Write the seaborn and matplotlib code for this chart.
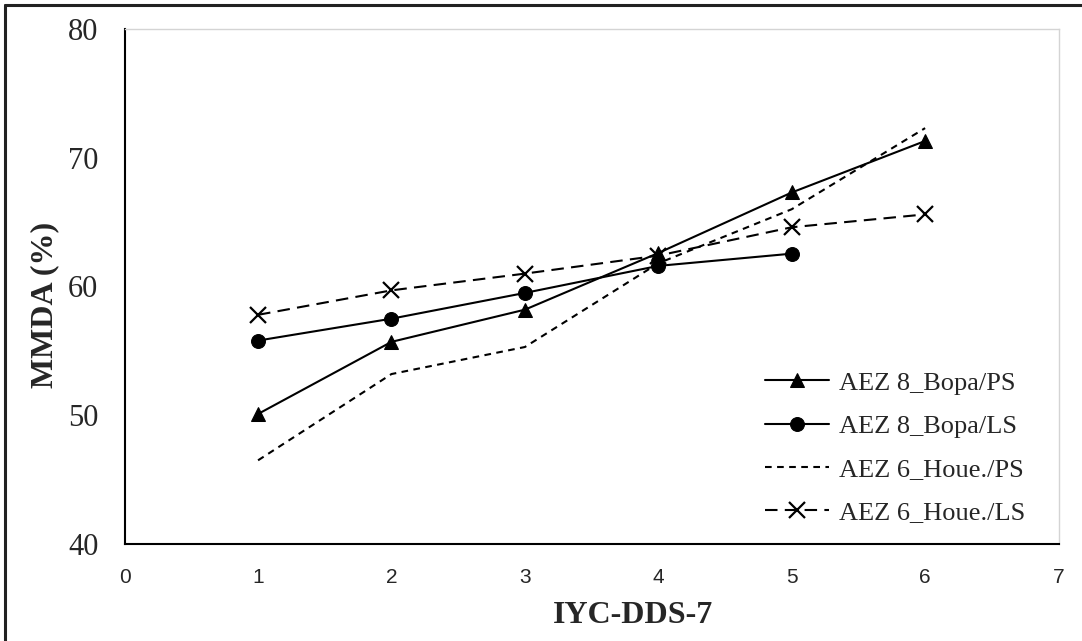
#!/usr/bin/env python3
"""MMDA (%) selon le score IYC-DDS-7, par zone agro-écologique."""

import matplotlib.pyplot as plt
import pandas as pd
import seaborn as sns
from matplotlib.lines import Line2D

DDS = [1, 2, 3, 4, 5, 6]
BOPA_PS = [50.1, 55.7, 58.2, 62.6, 67.3, 71.3]
BOPA_LS = [55.8, 57.5, 59.5, 61.6, 62.55]
HOUE_PS = [46.5, 53.2, 55.3, 61.8, 66.0, 72.3]
HOUE_LS = [57.8, 59.7, 61.0, 62.4, 64.6, 65.6]

LABELS = ["AEZ 8_Bopa/PS", "AEZ 8_Bopa/LS", "AEZ 6_Houe./PS", "AEZ 6_Houe./LS"]
Y_TICKS = [40, 50, 60, 70, 80]
X_TICKS = [0, 1, 2, 3, 4, 5, 6, 7]

SERIF = ["Liberation Serif", "DejaVu Serif"]
SANS = ["Liberation Sans", "DejaVu Sans"]


def main() -> None:
    sns.set_theme(style="white")
    plt.rcParams["font.family"] = SERIF

    series = [BOPA_PS, BOPA_LS, HOUE_PS, HOUE_LS]
    styles = [
        dict(marker="^", markersize=10, linestyle="-"),
        dict(marker="o", markersize=10, linestyle="-"),
        dict(marker=None, linestyle=(0, (3.2, 2.6))),
        dict(marker="x", markersize=11, markeredgewidth=1.6, linestyle=(0, (6, 3.5))),
    ]

    fig = plt.figure(figsize=(10.82, 6.41), dpi=100)
    ax = fig.add_axes([0.1152, 0.1513, 0.8631, 0.8035])

    for vals, lab, st in zip(series, LABELS, styles):
        df = pd.DataFrame({"dds": DDS[: len(vals)], "mmda": vals})
        sns.lineplot(
            data=df, x="dds", y="mmda", ax=ax, color="black", linewidth=1.5,
            markeredgecolor="black", label=lab, **st,
        )

    ax.set_xlim(0, 7)
    ax.set_ylim(40, 80)
    ax.set_xticks(X_TICKS)
    ax.set_yticks(Y_TICKS)
    ax.set_xticklabels([str(t) for t in X_TICKS], fontfamily=SANS, fontsize=15)
    ax.set_yticklabels([str(t) for t in Y_TICKS], fontsize=22)
    ax.tick_params(axis="y", direction="out", length=8, width=1.2, color="black", pad=11)
    ax.tick_params(axis="x", direction="out", length=6, width=1.2, color="black", pad=11)
    ax.set_xlabel("IYC-DDS-7", fontsize=23, fontweight="bold", labelpad=10)
    ax.set_ylabel("MMDA (%)", fontsize=23, fontweight="bold", labelpad=6)
    ax.xaxis.label.set_x(0.544)
    ax.yaxis.label.set_y(0.464)

    for side in ("left", "bottom"):
        ax.spines[side].set_color("black")
        ax.spines[side].set_linewidth(1.5)
    for side in ("top", "right"):
        ax.spines[side].set_color("#d4d4d4")
        ax.spines[side].set_linewidth(1.0)
    ax.grid(False)

    ax.legend(
        loc="lower right", bbox_to_anchor=(0.99, -0.008), frameon=False,
        fontsize=19, handlelength=2.42, handletextpad=0.38, labelspacing=0.75,
    )

    # cadre de la figure (seuls les bords gauche et haut sont visibles)
    fig.add_artist(Line2D([0.0042, 0.0042], [0, 0.992], color="#222222", lw=2.2))
    fig.add_artist(Line2D([0.0042, 1], [0.992, 0.992], color="#222222", lw=2.2))

    fig.savefig("out.png", dpi=100)
    plt.close(fig)


if __name__ == "__main__":
    main()
